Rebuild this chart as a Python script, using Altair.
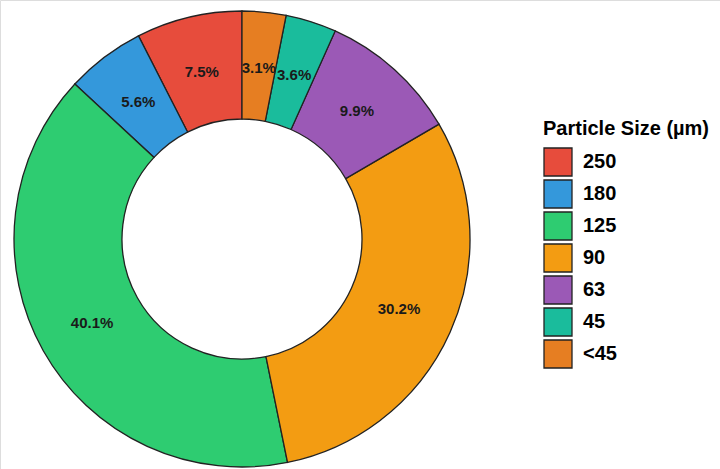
import altair as alt
import pandas as pd

sizes = ["250", "180", "125", "90", "63", "45", "<45"]
percents = [7.5, 5.6, 40.1, 30.2, 9.9, 3.6, 3.1]
colors = ["#e74c3c", "#3498db", "#2ecc71", "#f39c12", "#9b59b6", "#1abc9c", "#e67e22"]
# clockwise drawing order starting at 12 o'clock
clock_order = [6, 5, 4, 3, 2, 1, 0]

df = pd.DataFrame({
    "size": sizes,
    "pct": percents,
    "ord": clock_order,
    "label": [f"{p}%" for p in percents],
})

cx, cy = 242, 239

base = alt.Chart(df).encode(
    theta=alt.Theta("pct:Q", stack=True),
    order=alt.Order("ord:Q", sort="ascending"),
    x=alt.value(cx),
    y=alt.value(cy),
)

arcs = base.mark_arc(outerRadius=228, innerRadius=120, stroke="#222222", strokeWidth=1.3).encode(
    color=alt.Color(
        "size:N",
        scale=alt.Scale(domain=sizes, range=colors),
        sort=sizes,
        legend=alt.Legend(
            title="Particle Size (µm)",
            orient="none",
            legendX=543,
            legendY=119,
            titleFont="Liberation Sans",
            titleFontSize=20,
            titleFontWeight="bold",
            titleColor="#000000",
            titlePadding=8,
            labelFont="Liberation Sans",
            labelFontSize=20,
            labelFontWeight="bold",
            labelColor="#000000",
            symbolType="square",
            symbolSize=784,
            symbolStrokeColor="#222222",
            symbolStrokeWidth=1.3,
            symbolOpacity=1,
            rowPadding=-3,
            labelOffset=10,
        ),
    )
)

texts = base.mark_text(radius=172, font="Liberation Sans", fontSize=15, fontWeight="bold", color="#1a1a1a").encode(
    text="label:N"
)

chart = (arcs + texts).properties(
    width=720, height=469,
    autosize=alt.AutoSizeParams(type="none"),
    padding=0,
).configure_view(stroke=None).configure(background="white")

chart.save("out.html", embed_options={"renderer": "svg", "actions": False})
